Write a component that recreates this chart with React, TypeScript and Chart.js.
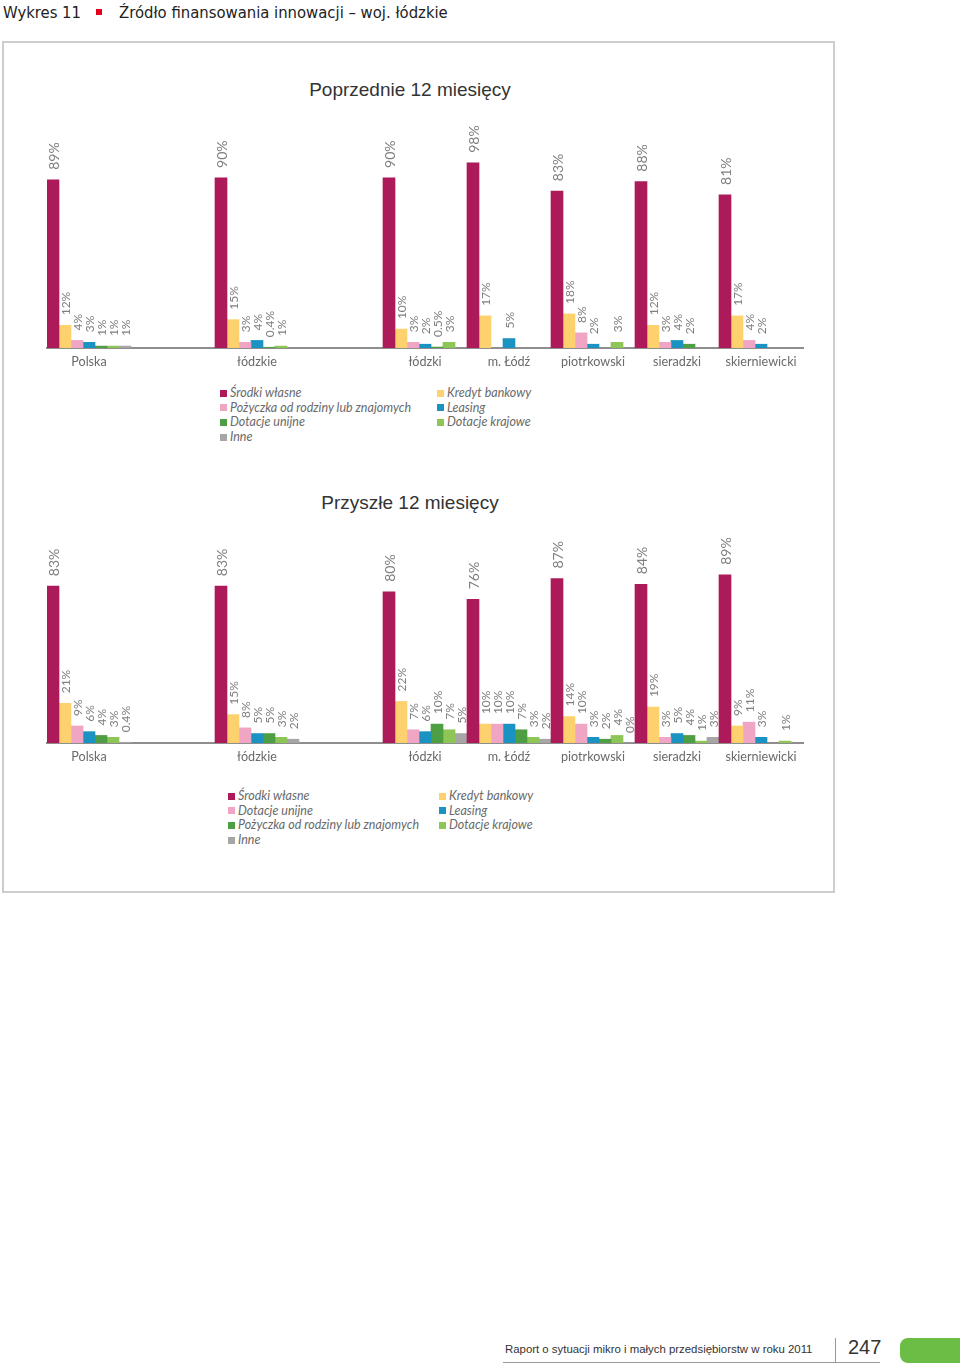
import React, { useEffect, useRef } from "react";
import { Chart, registerables } from "chart.js";

Chart.register(...registerables);

// ---------- data ----------
const categories = ["Polska", "", "łódzkie", "", "łódzki", "m. Łódź", "piotrkowski", "sieradzki", "skierniewicki"];

const seriesColors = ["#AC1A5A", "#FDD26E", "#F0A5C5", "#1A93C3", "#4E9E43", "#8DC657", "#A6A6A6"];

// Poprzednie 12 miesięcy
const prevSeriesNames = ["Środki własne", "Kredyt bankowy", "Pożyczka od rodziny lub znajomych", "Leasing", "Dotacje unijne", "Dotacje krajowe", "Inne"];
const prevSrodki = [89, null, 90, null, 90, 98, 83, 88, 81];
const prevKredyt = [12, null, 15, null, 10, 17, 18, 12, 17];
const prevPozyczka = [4, null, 3, null, 3, null, 8, 3, 4];
const prevLeasing = [3, null, 4, null, 2, 5, 2, 4, 2];
const prevUnijne = [1, null, 0.4, null, 0.5, null, null, 2, null];
const prevKrajowe = [1, null, 1, null, 3, null, 3, null, null];
const prevInne = [1, null, null, null, null, null, null, null, null];

// Przyszłe 12 miesięcy
const nextSeriesNames = ["Środki własne", "Kredyt bankowy", "Dotacje unijne", "Leasing", "Pożyczka od rodziny lub znajomych", "Dotacje krajowe", "Inne"];
const nextSrodki = [83, null, 83, null, 80, 76, 87, 84, 89];
const nextKredyt = [21, null, 15, null, 22, 10, 14, 19, 9];
const nextUnijne = [9, null, 8, null, 7, 10, 10, 3, 11];
const nextLeasing = [6, null, 5, null, 6, 10, 3, 5, 3];
const nextPozyczka = [4, null, 5, null, 10, 7, 2, 4, null];
const nextKrajowe = [3, null, 3, null, 7, 3, 4, 1, 1];
const nextInne = [0.4, null, 2, null, 5, 2, 0, 3, null];

const prevValues = [prevSrodki, prevKredyt, prevPozyczka, prevLeasing, prevUnijne, prevKrajowe, prevInne];
const nextValues = [nextSrodki, nextKredyt, nextUnijne, nextLeasing, nextPozyczka, nextKrajowe, nextInne];

// ---------- plugin: rotated value labels ----------
const barLabelPlugin = {
  id: "barLabels",
  afterDatasetsDraw(chart: any) {
    const ctx = chart.ctx;
    chart.data.datasets.forEach((ds: any, i: number) => {
      const meta = chart.getDatasetMeta(i);
      meta.data.forEach((bar: any, j: number) => {
        const v = ds.data[j];
        if (v === null || v === undefined) return;
        ctx.save();
        ctx.translate(bar.x + 1, bar.y - 10);
        ctx.rotate(-Math.PI / 2);
        ctx.font = (i === 0 ? "14px" : "12px") + " Lato, 'Open Sans', sans-serif";
        ctx.fillStyle = "#7f7f7f";
        ctx.textAlign = "left";
        ctx.textBaseline = "middle";
        ctx.fillText(String(v) + "%", 0, 0);
        ctx.restore();
      });
    });
  },
};

function BarChart({ names, values, top }: { names: string[]; values: (number | null)[][]; top: number }) {
  const ref = useRef<HTMLCanvasElement | null>(null);
  useEffect(() => {
    if (!ref.current) return;
    const chart = new Chart(ref.current, {
      type: "bar",
      data: {
        labels: categories,
        datasets: names.map((n, i) => ({
          label: n,
          data: values[i],
          backgroundColor: seriesColors[i],
          borderWidth: 0,
          categoryPercentage: 1,
          barPercentage: 1,
        })),
      },
      options: {
        animation: false,
        responsive: false,
        maintainAspectRatio: false,
        layout: { padding: { left: 47, right: 17, top: 39, bottom: 2 } },
        plugins: {
          legend: { display: false },
          title: { display: false },
          tooltip: { enabled: false },
        },
        scales: {
          x: {
            grid: { display: false, drawTicks: false },
            border: { display: true, color: "#8e8e8e", width: 2 },
            ticks: {
              font: { family: "Lato, 'Open Sans', sans-serif", size: 12.6 },
              color: "#6a6a6a",
              padding: 6,
              autoSkip: false,
              maxRotation: 0,
            },
            afterFit: (s: any) => {
              s.height = 30;
            },
          },
          y: { display: false, min: 0, max: 100 },
        },
      } as any,
      plugins: [barLabelPlugin as any],
    });
    return () => chart.destroy();
  }, []);
  return (
    <canvas
      ref={ref}
      width={820}
      height={260}
      style={{ position: "absolute", left: 0, top, width: 820, height: 260 }}
    />
  );
}

function Legend({ names, left1, left2, top }: { names: string[]; left1: number; left2: number; top: number }) {
  return (
    <>
      {names.map((n, k) => {
        const row = Math.floor(k / 2);
        const col = k % 2;
        return (
          <div
            key={k}
            style={{
              position: "absolute",
              left: col === 0 ? left1 : left2,
              top: top + row * 14.7 - 8,
              height: 16,
              lineHeight: "16px",
              display: "flex",
              alignItems: "center",
              whiteSpace: "nowrap",
              fontFamily: "Lato, 'Open Sans', sans-serif",
              fontStyle: "italic",
              fontSize: 12.5,
              color: "#6a6a6a",
            }}
          >
            <span style={{ display: "inline-block", width: 7, height: 7, background: seriesColors[k], marginRight: 3 }} />
            {n}
          </div>
        );
      })}
    </>
  );
}

const headerFont = {
  fontFamily: "'Liberation Sans Narrow', 'DejaVu Sans Condensed', 'Liberation Sans', sans-serif",
  fontStretch: "condensed" as const,
  fontSize: 16.5,
  lineHeight: "24px",
  color: "#222",
  whiteSpace: "nowrap" as const,
};

export default function App() {
  return (
    <div
      style={{
        position: "absolute",
        left: 0,
        top: 0,
        width: 960,
        height: 1369,
        background: "#fff",
        overflow: "hidden",
        fontFamily: "'Liberation Sans', Arial, sans-serif",
      }}
    >
      {/* header */}
      <div style={{ position: "absolute", left: 3, top: 1, ...headerFont }}>Wykres 11</div>
      <div style={{ position: "absolute", left: 96, top: 9, width: 6, height: 6, background: "#E2001A" }} />
      <div style={{ position: "absolute", left: 119, top: 1, ...headerFont }}>
        Źródło finansowania innowacji – woj. łódzkie
      </div>

      {/* frame */}
      <div
        style={{
          position: "absolute",
          left: 2,
          top: 41,
          width: 833,
          height: 852,
          boxSizing: "border-box",
          border: "2px solid #cdcdcd",
        }}
      />

      {/* top chart */}
      <div
        style={{
          position: "absolute",
          left: 0,
          width: 820,
          top: 78,
          textAlign: "center",
          fontSize: 19,
          lineHeight: "24px",
          color: "#333",
        }}
      >
        Poprzednie 12 miesięcy
      </div>
      <BarChart names={prevSeriesNames} values={prevValues} top={120} />
      <Legend names={prevSeriesNames} left1={220} left2={437} top={393} />

      {/* bottom chart */}
      <div
        style={{
          position: "absolute",
          left: 0,
          width: 820,
          top: 491,
          textAlign: "center",
          fontSize: 19,
          lineHeight: "24px",
          color: "#333",
        }}
      >
        Przyszłe 12 miesięcy
      </div>
      <BarChart names={nextSeriesNames} values={nextValues} top={515} />
      <Legend names={nextSeriesNames} left1={228} left2={439} top={796} />

      {/* footer */}
      <div
        style={{
          position: "absolute",
          left: 505,
          top: 1341,
          fontSize: 11.4,
          lineHeight: "16px",
          color: "#333",
          whiteSpace: "nowrap",
        }}
      >
        Raport o sytuacji mikro i małych przedsiębiorstw w roku 2011
      </div>
      <div style={{ position: "absolute", left: 503, top: 1362, width: 377, height: 1, background: "#999" }} />
      <div style={{ position: "absolute", left: 835, top: 1338, width: 1, height: 24, background: "#999" }} />
      <div
        style={{
          position: "absolute",
          left: 848,
          top: 1335,
          fontSize: 20,
          lineHeight: "24px",
          color: "#333",
        }}
      >
        247
      </div>
      <div
        style={{
          position: "absolute",
          left: 900,
          top: 1338,
          width: 70,
          height: 25,
          borderRadius: 8,
          background: "#6CBD45",
        }}
      />
    </div>
  );
}
